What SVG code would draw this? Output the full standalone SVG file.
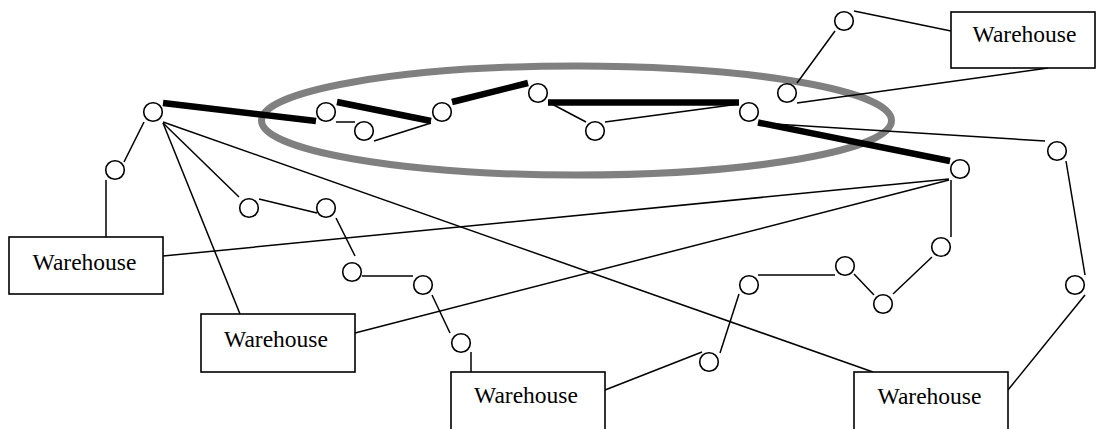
<svg xmlns="http://www.w3.org/2000/svg" width="1096" height="429" viewBox="0 0 1096 429">
  <style>
    .bg { fill: #ffffff; }
    .zone { fill: none; stroke: #808080; stroke-width: 7; }
    .edge { stroke: #000000; stroke-width: 1.5; fill: none; }
    .route { stroke: #000000; stroke-width: 6.5; fill: none; }
    .stop { fill: #ffffff; stroke: #000000; stroke-width: 1.6; }
    .box { fill: #ffffff; stroke: #000000; stroke-width: 1.6; }
    .label { font-family: "Liberation Serif", "Times New Roman", serif; font-size: 23.5px; fill: #000000; text-anchor: middle; }
  </style>
  <defs>
    <circle id="stop" r="9.3" class="stop"/>
  </defs>

  <rect class="bg" x="0" y="0" width="1096" height="429"/>

  <!-- highlighted region -->
  <ellipse class="zone" cx="576.5" cy="120.5" rx="315" ry="54.5"/>

  <g id="connectors">
    <!-- thin links -->
    <line class="edge" x1="144" y1="122" x2="124" y2="162"/>
    <line class="edge" x1="106" y1="180" x2="106" y2="237"/>
    <line class="edge" x1="163" y1="123" x2="239" y2="197"/>
    <line class="edge" x1="163" y1="123" x2="240" y2="314"/>
    <line class="edge" x1="163" y1="122" x2="873" y2="372"/>
    <line class="edge" x1="336" y1="122" x2="355" y2="122"/>
    <line class="edge" x1="259" y1="199" x2="317" y2="213"/>
    <line class="edge" x1="336" y1="218" x2="355" y2="256"/>
    <line class="edge" x1="374" y1="141" x2="431" y2="123"/>
    <line class="edge" x1="550" y1="103" x2="586" y2="122"/>
    <line class="edge" x1="605" y1="122" x2="739" y2="104"/>
    <line class="edge" x1="854" y1="11" x2="951" y2="31"/>
    <line class="edge" x1="835" y1="31" x2="797" y2="83"/>
    <line class="edge" x1="1048" y1="68" x2="797" y2="103"/>
    <line class="edge" x1="758" y1="123" x2="1045" y2="141"/>
    <line class="edge" x1="1066" y1="161" x2="1085" y2="275"/>
    <line class="edge" x1="949" y1="179" x2="163" y2="256"/>
    <line class="edge" x1="949" y1="180" x2="355" y2="333"/>
    <line class="edge" x1="951" y1="180" x2="951" y2="237"/>
    <line class="edge" x1="932" y1="257" x2="893" y2="294"/>
    <line class="edge" x1="874" y1="295" x2="854" y2="274"/>
    <line class="edge" x1="835" y1="275" x2="758" y2="275"/>
    <line class="edge" x1="739" y1="294" x2="720" y2="353"/>
    <line class="edge" x1="1085" y1="295" x2="1008" y2="390"/>
    <line class="edge" x1="362" y1="276" x2="413" y2="276"/>
    <line class="edge" x1="432" y1="295" x2="450" y2="333"/>
    <line class="edge" x1="471" y1="352" x2="471" y2="372"/>
    <line class="edge" x1="605" y1="390" x2="702" y2="352"/>
    <!-- heavy route -->
    <line class="route" x1="163" y1="103" x2="316" y2="121"/>
    <line class="route" x1="337" y1="102" x2="431" y2="121"/>
    <line class="route" x1="452" y1="102" x2="528" y2="83"/>
    <line class="route" x1="548" y1="102.5" x2="739" y2="102.5"/>
    <line class="route" x1="758" y1="122.5" x2="950" y2="161"/>
  </g>

  <g id="n-a"><use href="#stop" x="153" y="112"/></g>
  <g id="n-b"><use href="#stop" x="115" y="170"/></g>
  <g id="n-c"><use href="#stop" x="249" y="208"/></g>
  <g id="n-d"><use href="#stop" x="326" y="208"/></g>
  <g id="n-e"><use href="#stop" x="326" y="112"/></g>
  <g id="n-f"><use href="#stop" x="364" y="131"/></g>
  <g id="n-g"><use href="#stop" x="442" y="112"/></g>
  <g id="n-h"><use href="#stop" x="538" y="93"/></g>
  <g id="n-i"><use href="#stop" x="595" y="131"/></g>
  <g id="n-j"><use href="#stop" x="844" y="21"/></g>
  <g id="n-k"><use href="#stop" x="787" y="93"/></g>
  <g id="n-l"><use href="#stop" x="749" y="112"/></g>
  <g id="n-m"><use href="#stop" x="960" y="169"/></g>
  <g id="n-n"><use href="#stop" x="1057" y="151"/></g>
  <g id="n-o"><use href="#stop" x="352" y="272"/></g>
  <g id="n-p"><use href="#stop" x="423" y="285"/></g>
  <g id="n-q"><use href="#stop" x="461" y="343"/></g>
  <g id="n-r"><use href="#stop" x="709" y="362"/></g>
  <g id="n-s"><use href="#stop" x="749" y="285"/></g>
  <g id="n-t"><use href="#stop" x="845" y="266"/></g>
  <g id="n-u"><use href="#stop" x="883" y="304"/></g>
  <g id="n-v"><use href="#stop" x="941" y="247"/></g>
  <g id="n-w"><use href="#stop" x="1075" y="285"/></g>

  <g id="warehouse-1">
    <rect class="box" x="9" y="237" width="154" height="57"/>
    <text class="label" x="84.5" y="270">Warehouse</text>
  </g>
  <g id="warehouse-2">
    <rect class="box" x="201" y="314" width="154" height="58"/>
    <text class="label" x="276" y="347">Warehouse</text>
  </g>
  <g id="warehouse-3">
    <rect class="box" x="451" y="372" width="154" height="60"/>
    <text class="label" x="526" y="403">Warehouse</text>
  </g>
  <g id="warehouse-4">
    <rect class="box" x="951" y="12" width="144" height="56"/>
    <text class="label" x="1024.5" y="42">Warehouse</text>
  </g>
  <g id="warehouse-5">
    <rect class="box" x="854" y="372" width="154" height="60"/>
    <text class="label" x="929.5" y="404">Warehouse</text>
  </g>
</svg>
